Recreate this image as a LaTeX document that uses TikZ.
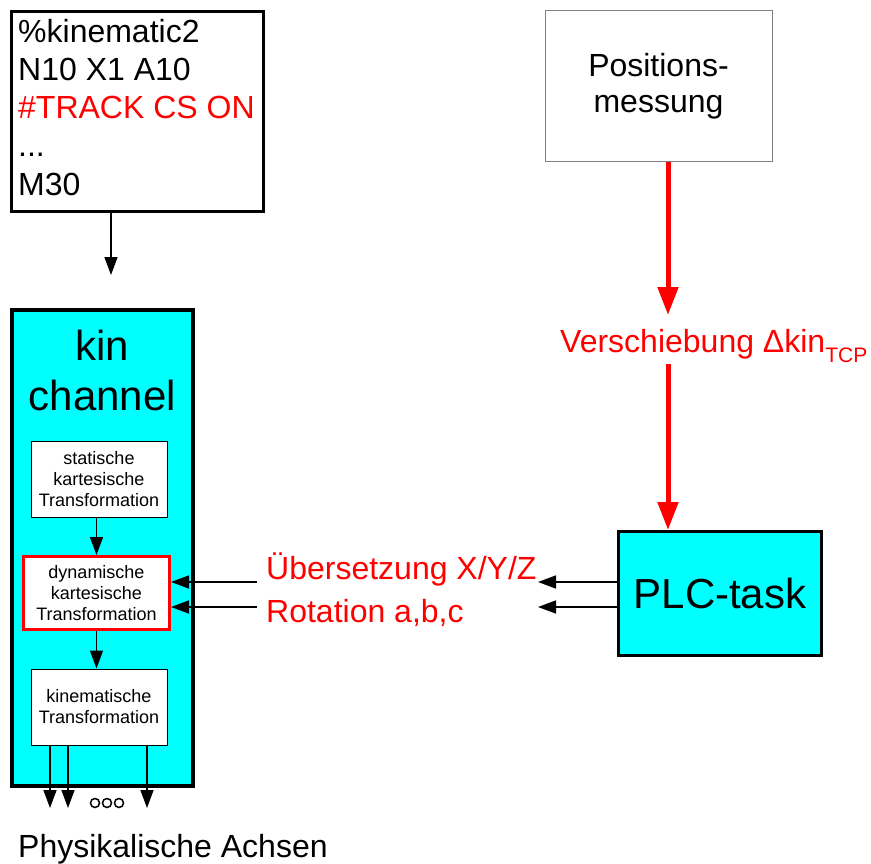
\documentclass[tikz,border=0pt]{standalone}
\usepackage{fontspec}
\setmainfont{Liberation Sans}
\usepackage{xcolor}
\usetikzlibrary{arrows.meta,positioning,calc}
\definecolor{kincyan}{RGB}{0,255,255}
\definecolor{sigred}{RGB}{255,0,0}
\newcommand{\fsz}[2]{\fontsize{#1}{#2}\selectfont}

\begin{document}
\begin{tikzpicture}[x=1pt,y=-1pt,
  blackarrow/.style={line width=1.5pt,-{Triangle[length=18pt,width=13pt]}},
  redarrow/.style={draw=sigred,line width=5pt,-{Triangle[length=28pt,width=20pt]}},
  trafo/.style={draw,fill=white,line width=1pt,inner sep=0pt,align=center,font=\fsz{18}{21}},
  codeline/.style={anchor=base west,inner sep=0pt,font=\fsz{32}{38}}]
  \useasboundingbox (0,0) rectangle (871,864);
  % NC program
  \node[draw,line width=3pt,minimum width=252pt,minimum height=200pt] (code) at (137.5,111.5) {};
  \node[codeline] (l1) at (18,43) {\%kinematic2};
  \node[codeline] (l2) at (18,81) {N10 X1 A10};
  \node[codeline,text=sigred] (l3) at (18,119) {\#TRACK CS ON};
  \node[codeline] (l4) at (18,157) {...};
  \node[codeline] (l5) at (18,196) {M30};
  \coordinate (cin) at (111,275);
  \draw[blackarrow] (code.south -| cin) -- (cin);
  % kin channel
  \node[draw,line width=4pt,fill=kincyan,minimum width=181pt,minimum height=476pt] (kin) at (102.5,548) {};
  \node[anchor=base,inner sep=0pt,font=\fsz{42}{50}] (kintxt) at (102.5,360) {kin};
  \node[anchor=base,inner sep=0pt,font=\fsz{42}{50}] (chtxt) at (102.5,410) {channel};
  \node[trafo,minimum width=136pt,minimum height=76pt] (stat) at (99,479) {statische\\kartesische\\Transformation};
  \node[trafo,draw=sigred,line width=3pt,minimum width=146pt,minimum height=73pt] (dyn) at (96.5,593) {dynamische\\kartesische\\Transformation};
  \node[trafo,minimum width=136pt,minimum height=76pt] (kinem) at (99,707) {kinematische\\Transformation};
  \draw[blackarrow] (stat.south -| dyn.north) -- (dyn.north);
  \draw[blackarrow] (dyn.south) -- (dyn.south |- kinem.north);
  \foreach \x [count=\i] in {50,68,147} {
    \coordinate (ax\i) at (\x,808);
    \draw[blackarrow] (kinem.south -| ax\i) -- (ax\i);
  }
  \foreach \x in {95,107,119} \draw[line width=1.5pt] (\x,803) circle (4.5pt);
  \node[anchor=base west,inner sep=0pt,font=\fsz{32}{38}] (achsen) at (18,857) {Physikalische Achsen};
  % position measurement
  \node[draw=gray,line width=1pt,minimum width=227pt,minimum height=151pt,align=center,font=\fsz{32}{36}] (pos) at (658.5,86.5) {Positions-\\messung};
  \node[anchor=base west,inner sep=0pt,text=sigred,font=\fsz{32}{36}] (shift) at (560,352) {Verschiebung Δkin\raisebox{-10pt}{\fsz{21}{21}TCP}};
  \node[draw,line width=3pt,fill=kincyan,minimum width=203pt,minimum height=124pt,font=\fsz{42}{50}] (plc) at (720,593.5) {PLC-task};
  \coordinate (s1) at (668,315);
  \coordinate (s2) at (668,364);
  \draw[redarrow] (pos.south -| s1) -- (s1);
  \draw[redarrow] (s2) -- (s2 |- plc.north);
  % offsets
  \node[anchor=base west,inner sep=0pt,text=sigred,font=\fsz{32}{36}] (trans) at (266,579) {Übersetzung X/Y/Z};
  \node[anchor=base west,inner sep=0pt,text=sigred,font=\fsz{32}{36}] (rot) at (266,622) {Rotation a,b,c};
  \coordinate (ta) at (257,582); \coordinate (tb) at (538,582);
  \coordinate (ra) at (257,607); \coordinate (rb) at (538,607);
  \draw[blackarrow] (ta) -- (ta -| dyn.east);
  \draw[blackarrow] (ra) -- (ra -| dyn.east);
  \draw[blackarrow] (plc.west |- tb) -- (tb);
  \draw[blackarrow] (plc.west |- rb) -- (rb);
\end{tikzpicture}
\end{document}
